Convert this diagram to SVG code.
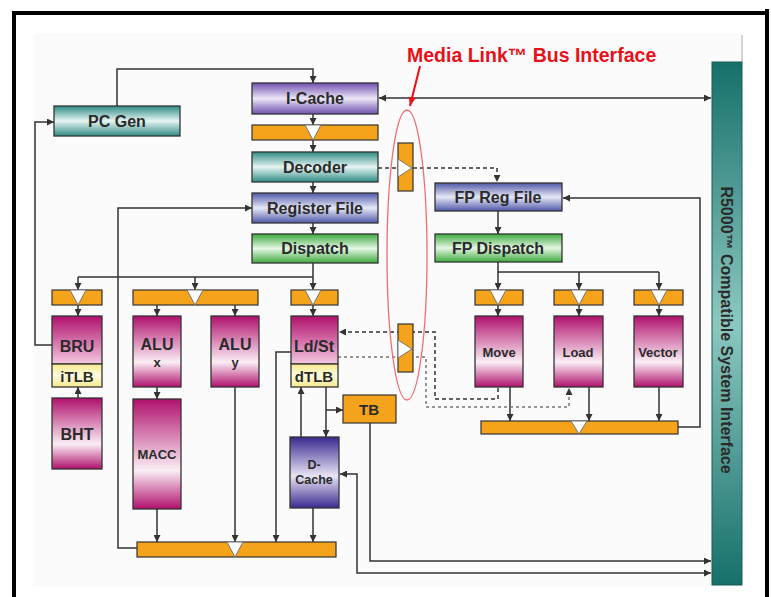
<svg xmlns="http://www.w3.org/2000/svg" width="771" height="597" viewBox="0 0 771 597">
<style>
.n{stroke:#333;stroke-width:1.3}
.t{font-family:"Liberation Sans",Arial,sans-serif;font-weight:bold;fill:#2a2a2a;text-anchor:middle}
.c{fill:none;stroke:#333;stroke-width:1.5}
.d{fill:none;stroke:#333;stroke-width:1.5;stroke-dasharray:4 3}
.d2{fill:none;stroke:#777;stroke-width:1.5;stroke-dasharray:3 3}
.or{fill:#f5a31a;stroke:#333;stroke-width:1.2}
.tri{fill:#fff;stroke:#777;stroke-width:1}
</style>
<defs>
<linearGradient id="gTeal" x1="0" y1="0" x2="0" y2="1"><stop offset="0" stop-color="#2e8c84"/><stop offset="0.5" stop-color="#e6f4f2"/><stop offset="1" stop-color="#2e8c84"/></linearGradient>
<linearGradient id="gPur" x1="0" y1="0" x2="0" y2="1"><stop offset="0" stop-color="#7050b0"/><stop offset="0.5" stop-color="#ece6f6"/><stop offset="1" stop-color="#7050b0"/></linearGradient>
<linearGradient id="gBlue" x1="0" y1="0" x2="0" y2="1"><stop offset="0" stop-color="#5058a8"/><stop offset="0.5" stop-color="#e6e8f6"/><stop offset="1" stop-color="#5058a8"/></linearGradient>
<linearGradient id="gGreen" x1="0" y1="0" x2="0" y2="1"><stop offset="0" stop-color="#3eaa3e"/><stop offset="0.5" stop-color="#e4f6e4"/><stop offset="1" stop-color="#3eaa3e"/></linearGradient>
<linearGradient id="gMag" x1="0" y1="0" x2="0" y2="1"><stop offset="0" stop-color="#b0106c"/><stop offset="0.65" stop-color="#fbeef5"/><stop offset="1" stop-color="#b0106c"/></linearGradient>
<linearGradient id="gMag2" x1="0" y1="0" x2="0" y2="1"><stop offset="0" stop-color="#b0106c"/><stop offset="1" stop-color="#f4c8e0"/></linearGradient>
<linearGradient id="gDC" x1="0" y1="0" x2="0" y2="1"><stop offset="0" stop-color="#3a2890"/><stop offset="0.55" stop-color="#e8e4f4"/><stop offset="1" stop-color="#3a2890"/></linearGradient>
<linearGradient id="gYel" x1="0" y1="0" x2="0" y2="1"><stop offset="0" stop-color="#f4e88a"/><stop offset="0.5" stop-color="#fffce0"/><stop offset="1" stop-color="#f4e88a"/></linearGradient>
<linearGradient id="gBar" x1="0" y1="0" x2="0" y2="1"><stop offset="0" stop-color="#16706a"/><stop offset="0.5" stop-color="#8cc8c0"/><stop offset="1" stop-color="#16706a"/></linearGradient>
<marker id="ah" viewBox="0 0 10 10" refX="10" refY="5" markerWidth="7" markerHeight="7" markerUnits="userSpaceOnUse" orient="auto-start-reverse"><path d="M0,0 L10,5 L0,10 z" fill="#333"/></marker>
<marker id="ahr" viewBox="0 0 10 10" refX="10" refY="5" markerWidth="9" markerHeight="9" markerUnits="userSpaceOnUse" orient="auto"><path d="M0,1 L10,5 L0,9 z" fill="#e8101a"/></marker>
</defs>

<!-- frame and panel -->
<rect x="33" y="33" width="709" height="554" fill="#fbfbfb"/>
<line x1="742" y1="35" x2="742" y2="62" stroke="#aaa" stroke-width="1"/>
<path d="M12,13 H769 M14,11 V597 M767,9 V597" fill="none" stroke="#000" stroke-width="4"/>

<!-- connectors -->
<g id="connectors">
<path class="c" d="M117,106 V69 H313 V83" marker-end="url(#ah)"/>
<path class="c" d="M313,114 V125" marker-end="url(#ah)"/>
<path class="c" d="M313,140 V152" marker-end="url(#ah)"/>
<path class="c" d="M313,182 V193" marker-end="url(#ah)"/>
<path class="c" d="M313,223 V234" marker-end="url(#ah)"/>
<path class="c" d="M379,98 H711" marker-start="url(#ah)" marker-end="url(#ah)"/>
<path class="c" d="M313,263 V277 M78,277 H313"/>
<path class="c" d="M78,277 V290" marker-end="url(#ah)"/>
<path class="c" d="M195,277 V290" marker-end="url(#ah)"/>
<path class="c" d="M313,277 V290" marker-end="url(#ah)"/>
<path class="c" d="M78,305 V316" marker-end="url(#ah)"/>
<path class="c" d="M157,305 V316" marker-end="url(#ah)"/>
<path class="c" d="M235,305 V316" marker-end="url(#ah)"/>
<path class="c" d="M313,305 V316" marker-end="url(#ah)"/>
<path class="c" d="M52,345 H35 V122 H54" marker-end="url(#ah)"/>
<path class="c" d="M78,398 V387" marker-end="url(#ah)"/>
<path class="c" d="M157,387 V399" marker-end="url(#ah)"/>
<path class="c" d="M157,509 V542" marker-end="url(#ah)"/>
<path class="c" d="M235,387 V542" marker-end="url(#ah)"/>
<path class="c" d="M291,352 H276 V542" marker-end="url(#ah)"/>
<path class="c" d="M313,508 V542" marker-end="url(#ah)"/>
<path class="c" d="M301,437 V387" marker-end="url(#ah)"/>
<path class="c" d="M326,387 V437" marker-end="url(#ah)"/>
<path class="c" d="M326,410 H343" marker-end="url(#ah)"/>
<path class="c" d="M137,548 H118 V208 H252" marker-end="url(#ah)"/>
<path class="c" d="M370,423 V561 H711" marker-end="url(#ah)"/>
<path class="c" d="M340,474 H357 V573 H711" marker-start="url(#ah)" marker-end="url(#ah)"/>
<!-- FP side -->
<path class="c" d="M498,211 V234" marker-end="url(#ah)"/>
<path class="c" d="M498,262 V272 H659"/>
<path class="c" d="M498,272 V290" marker-end="url(#ah)"/>
<path class="c" d="M579,272 V290" marker-end="url(#ah)"/>
<path class="c" d="M659,272 V290" marker-end="url(#ah)"/>
<path class="c" d="M498,305 V316" marker-end="url(#ah)"/>
<path class="c" d="M579,305 V316" marker-end="url(#ah)"/>
<path class="c" d="M659,305 V316" marker-end="url(#ah)"/>
<path class="c" d="M510,387 V421" marker-end="url(#ah)"/>
<path class="c" d="M589,387 V421" marker-end="url(#ah)"/>
<path class="c" d="M659,387 V421" marker-end="url(#ah)"/>
<path class="c" d="M678,427 H700 V198 H563" marker-end="url(#ah)"/>
<!-- dashed media link -->
<path class="d" d="M378,168 H497 V182" marker-end="url(#ah)"/>
<path class="d" d="M498,388 V399 H435 V332 H339" marker-end="url(#ah)"/>
<path class="d2" d="M338,357 H426 V407 H569 V388" marker-end="url(#ah)"/>
</g>

<!-- nodes -->
<g id="pcgen"><rect class="n" x="54" y="106" width="126" height="30" fill="url(#gTeal)"/><text class="t" x="117" y="127" font-size="16">PC Gen</text></g>
<g id="icache"><rect class="n" x="252" y="83" width="126" height="31" fill="url(#gPur)"/><text class="t" x="315" y="104" font-size="16">I-Cache</text></g>
<g id="latch-ic"><rect class="or" x="252" y="125" width="126" height="15"/><path class="tri" d="M305,125 L321,125 L313,140 z"/></g>
<g id="decoder"><rect class="n" x="252" y="152" width="126" height="30" fill="url(#gTeal)"/><text class="t" x="315" y="173" font-size="16">Decoder</text></g>
<g id="regfile"><rect class="n" x="252" y="193" width="126" height="30" fill="url(#gBlue)"/><text class="t" x="315" y="214" font-size="16">Register File</text></g>
<g id="dispatch"><rect class="n" x="252" y="234" width="126" height="29" fill="url(#gGreen)"/><text class="t" x="315" y="254" font-size="16">Dispatch</text></g>

<g id="latch-bru"><rect class="or" x="52" y="290" width="50" height="15"/><path class="tri" d="M70,290 L86,290 L78,305 z"/></g>
<g id="latch-alu"><rect class="or" x="133" y="290" width="125" height="15"/><path class="tri" d="M187,290 L203,290 L195,305 z"/></g>
<g id="latch-ldst"><rect class="or" x="291" y="290" width="47" height="15"/><path class="tri" d="M305,290 L321,290 L313,305 z"/></g>

<g id="bru"><rect class="n" x="52" y="316" width="50" height="48" fill="url(#gMag2)"/><text class="t" x="77" y="352" font-size="16">BRU</text></g>
<g id="itlb"><rect class="n" x="52" y="364" width="50" height="23" fill="url(#gYel)"/><text class="t" x="77" y="382" font-size="15">iTLB</text></g>
<g id="bht"><rect class="n" x="52" y="398" width="50" height="71" fill="url(#gMag)"/><text class="t" x="77" y="440" font-size="16">BHT</text></g>
<g id="alux"><rect class="n" x="133" y="316" width="48" height="71" fill="url(#gMag)"/><text class="t" x="157" y="350" font-size="16">ALU</text><text class="t" x="157" y="367" font-size="13">x</text></g>
<g id="aluy"><rect class="n" x="211" y="316" width="48" height="71" fill="url(#gMag)"/><text class="t" x="235" y="350" font-size="16">ALU</text><text class="t" x="235" y="367" font-size="13">y</text></g>
<g id="macc"><rect class="n" x="133" y="399" width="48" height="110" fill="url(#gMag)"/><text class="t" x="157" y="459" font-size="13">MACC</text></g>
<g id="ldst"><rect class="n" x="291" y="316" width="47" height="48" fill="url(#gMag2)"/><text class="t" x="314" y="352" font-size="16">Ld/St</text></g>
<g id="dtlb"><rect class="n" x="291" y="364" width="47" height="23" fill="url(#gYel)"/><text class="t" x="314" y="382" font-size="15">dTLB</text></g>
<g id="tb"><rect class="or" x="343" y="395" width="53" height="28"/><text class="t" x="369" y="415" font-size="15">TB</text></g>
<g id="dcache"><rect class="n" x="290" y="437" width="49" height="71" fill="url(#gDC)"/><text class="t" x="314" y="469" font-size="12.5">D-</text><text class="t" x="314" y="484" font-size="12.5">Cache</text></g>
<g id="latch-out"><rect class="or" x="137" y="542" width="199" height="15"/><path class="tri" d="M227,542 L243,542 L235,557 z"/></g>

<!-- media link latches -->
<g id="ml-dec"><rect class="or" x="398" y="143" width="15" height="48"/><path class="tri" d="M398,159 L398,177 L412,168 z"/></g>
<g id="ml-ldst"><rect class="or" x="398" y="324" width="15" height="48"/><path class="tri" d="M398,340 L398,358 L412,349 z"/></g>

<!-- FP -->
<g id="fpreg"><rect class="n" x="435" y="183" width="127" height="28" fill="url(#gBlue)"/><text class="t" x="498" y="203" font-size="16">FP Reg File</text></g>
<g id="fpdisp"><rect class="n" x="435" y="234" width="127" height="28" fill="url(#gGreen)"/><text class="t" x="498" y="254" font-size="16">FP Dispatch</text></g>
<g id="latch-move"><rect class="or" x="475" y="290" width="48" height="15"/><path class="tri" d="M490,290 L506,290 L498,305 z"/></g>
<g id="latch-load"><rect class="or" x="554" y="290" width="49" height="15"/><path class="tri" d="M571,290 L587,290 L579,305 z"/></g>
<g id="latch-vec"><rect class="or" x="634" y="290" width="49" height="15"/><path class="tri" d="M651,290 L667,290 L659,305 z"/></g>
<g id="move"><rect class="n" x="475" y="316" width="48" height="71" fill="url(#gMag)"/><text class="t" x="499" y="357" font-size="13">Move</text></g>
<g id="load"><rect class="n" x="554" y="316" width="49" height="71" fill="url(#gMag)"/><text class="t" x="578" y="357" font-size="13">Load</text></g>
<g id="vector"><rect class="n" x="634" y="316" width="49" height="71" fill="url(#gMag)"/><text class="t" x="658" y="357" font-size="13">Vector</text></g>
<g id="latch-fpout"><rect class="or" x="481" y="421" width="197" height="13"/><path class="tri" d="M571,421 L587,421 L579,434 z"/></g>

<!-- system interface -->
<g id="sysif"><rect x="712" y="62" width="30" height="523" fill="url(#gBar)" stroke="#1a5a55" stroke-width="1"/><text class="t" font-size="16" transform="translate(727,330) rotate(90)" y="5.7">R5000™ Compatible System Interface</text></g>

<!-- annotation -->
<g id="annotation">
<text x="407" y="62" font-family="Liberation Sans,Arial,sans-serif" font-weight="bold" font-size="19.5" fill="#e8101a">Media Link™ Bus Interface</text>
<line x1="420" y1="66" x2="410" y2="106" stroke="#e8101a" stroke-width="2" marker-end="url(#ahr)"/>
<ellipse cx="407" cy="255" rx="20" ry="145" fill="none" stroke="#f07070" stroke-width="1.3"/>
</g>
</svg>
